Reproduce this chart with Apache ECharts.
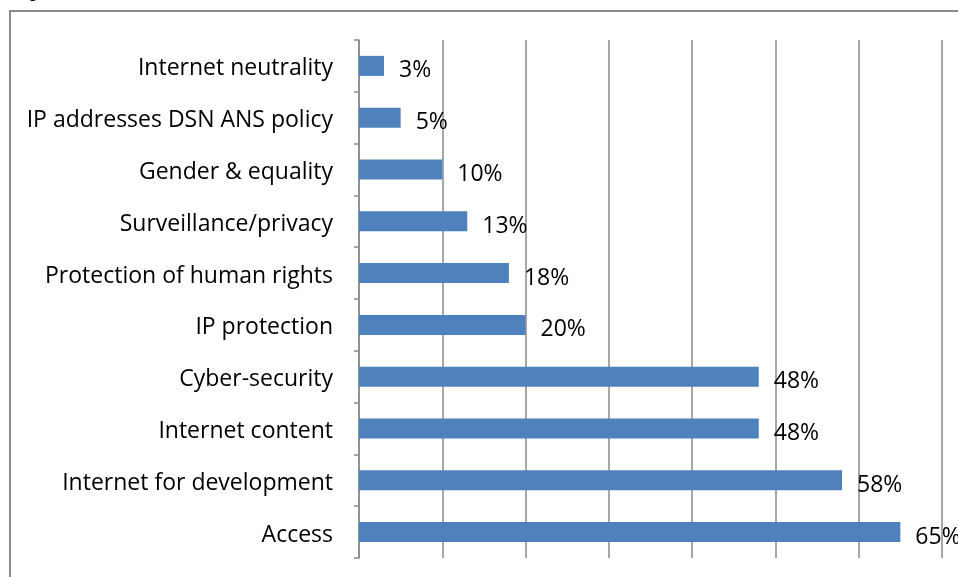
<!DOCTYPE html>
<html>
<head>
<meta charset="utf-8">
<script src="https://cdn.jsdelivr.net/npm/echarts@6/dist/echarts.min.js"></script>
<style>
  html, body { margin: 0; padding: 0; background: #fff; }
  #chart { width: 958px; height: 577px; }
</style>
</head>
<body>
<div id="chart"></div>
<script>
// Issues, listed top to bottom
const issues = [
  'Internet neutrality',
  'IP addresses DSN ANS policy',
  'Gender & equality',
  'Surveillance/privacy',
  'Protection of human rights',
  'IP protection',
  'Cyber-security',
  'Internet content',
  'Internet for development',
  'Access'
];
// Share of respondents (%)
const shares = [3, 5, 10, 13, 18, 20, 48, 48, 58, 65];

const FONT = '"Open Sans", "Noto Sans", sans-serif';

const chart = echarts.init(document.getElementById('chart'), null, { renderer: 'canvas' });

chart.setOption({
  animation: false,
  backgroundColor: '#ffffff',
  textStyle: { fontFamily: FONT },
  graphic: [
    {
      type: 'text',
      left: 14,
      top: -14,
      style: {
        text: 'Figure 4: Most relevant IG issues for Africa',
        font: 'bold 16px Arial, "Liberation Sans", sans-serif',
        fill: '#000'
      }
    },
    {
      type: 'rect',
      shape: { x: 10, y: 11, width: 1000, height: 700 },
      style: { fill: 'none', stroke: '#8a8a8a', lineWidth: 2 },
      z: 0
    }
  ],
  grid: { left: 359, right: 16, top: 40, bottom: 19, containLabel: false },
  xAxis: {
    type: 'value',
    min: 0,
    max: 70,
    interval: 10,
    axisLine: { show: false },
    axisTick: { show: false },
    axisLabel: { show: false },
    splitLine: { show: true, lineStyle: { color: '#8a8a8a', width: 1.5 } }
  },
  yAxis: {
    type: 'category',
    data: issues,
    inverse: true,
    axisLine: { show: true, lineStyle: { color: '#8a8a8a', width: 1.5 } },
    axisTick: { show: true, length: 5, lineStyle: { color: '#8a8a8a', width: 1.5 } },
    axisLabel: {
      margin: 26,
      color: '#000',
      fontSize: 23,
      fontFamily: FONT,
      verticalAlign: 'top',
      lineHeight: 6
    }
  },
  series: [
    {
      type: 'bar',
      data: shares,
      barWidth: 20,
      itemStyle: { color: '#4f81bd' },
      label: {
        show: true,
        position: 'right',
        distance: 15,
        offset: [0, 5],
        formatter: '{c}%',
        color: '#000',
        fontSize: 23,
        fontFamily: FONT
      }
    }
  ]
});
</script>
</body>
</html>
